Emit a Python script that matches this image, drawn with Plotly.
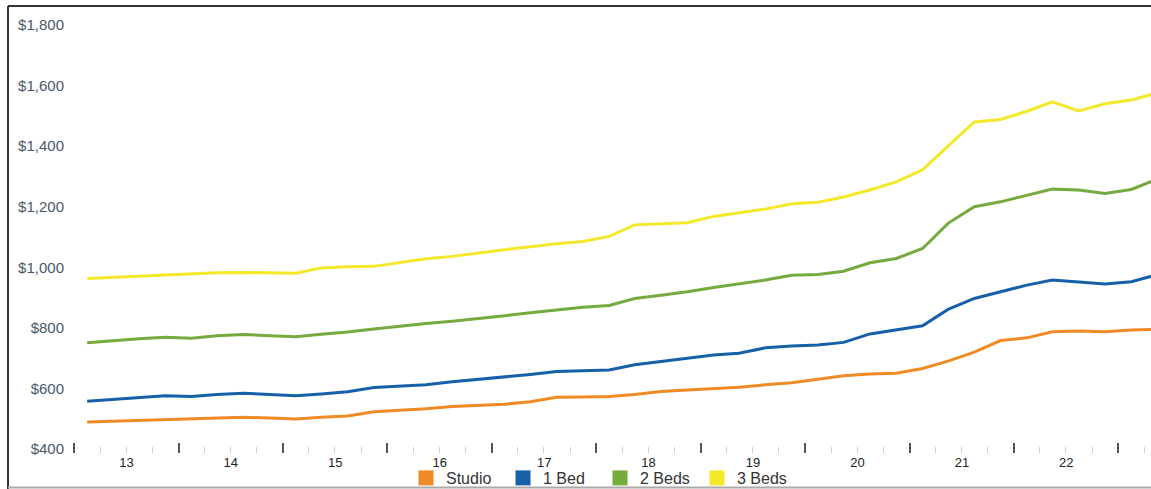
import plotly.graph_objects as go

# Quarterly observations (mid-quarter), 2013 Q1 .. 2023 Q2
quarters = [f"{2013 + k // 4}-{2 + 3 * (k % 4):02d}-15" for k in range(42)]

studio = [489, 492, 495, 498, 500, 502, 505, 502, 499, 505,
          509, 523, 527, 533, 540, 545, 548, 556, 571, 572,
          573, 580, 590, 595, 600, 604, 612, 619, 630, 642,
          648, 650, 666, 690, 720, 758, 767, 787, 790, 787,
          793, 795]

bed1 = [558, 564, 570, 576, 573, 580, 584, 580, 576, 582,
        589, 603, 607, 612, 622, 630, 637, 646, 656, 659,
        661, 678, 690, 700, 710, 716, 734, 740, 743, 752,
        780, 793, 807, 861, 897, 919, 941, 958, 952, 945,
        952, 975]

beds2 = [751, 758, 764, 769, 766, 774, 778, 774, 771, 779,
         786, 796, 806, 814, 822, 830, 840, 850, 860, 868,
         874, 897, 908, 919, 933, 945, 958, 974, 976, 987,
         1015, 1029, 1062, 1145, 1200, 1216, 1238, 1258, 1255, 1244,
         1257, 1290]

beds3 = [963, 967, 971, 974, 977, 982, 983, 982, 980, 998,
         1002, 1003, 1015, 1028, 1036, 1048, 1058, 1068, 1078, 1085,
         1102, 1140, 1143, 1147, 1168, 1180, 1192, 1210, 1215, 1232,
         1255, 1282, 1322, 1400, 1480, 1488, 1515, 1546, 1516, 1540,
         1552, 1575]

series_names = ["Studio", "1 Bed", "2 Beds", "3 Beds"]
series_values = [studio, bed1, beds2, beds3]
series_colors = ["#F08A24", "#1560A8", "#75AA3E", "#F5E82A"]

y_ticks = [400, 600, 800, 1000, 1200, 1400, 1600, 1800]
y_tick_labels = [f"${v:,}" for v in y_ticks]

fig = go.Figure()
for name, vals, col in zip(series_names, series_values, series_colors):
    fig.add_trace(go.Scatter(x=quarters, y=vals, mode="lines", name=name,
                             line=dict(color=col, width=3),
                             showlegend=False))
# legend entries with square swatches
for name, col in zip(series_names, series_colors):
    fig.add_trace(go.Scatter(x=[None], y=[None], mode="markers", name=name,
                             marker=dict(symbol="square", size=15, color=col),
                             showlegend=True))

W, H = 1151, 489
ml, mt, mb = 68, 8, 36
pw = W - ml
ph = H - mt - mb

def px_x(px):
    return (px - ml) / pw

def px_y(py):
    return 1 - (py - mt) / ph

fig.update_layout(
    width=W, height=H,
    margin=dict(l=ml, r=0, t=mt, b=mb, pad=0, autoexpand=False),
    paper_bgcolor="white", plot_bgcolor="white",
    font=dict(family="Liberation Sans, Arial, sans-serif", size=13, color="#333"),
    xaxis=dict(
        type="date",
        range=["2012-12-10", "2023-04-25"],
        tick0="2013-01-01", dtick="M12",
        tickformat="%y", ticklabelmode="period",
        ticks="inside", ticklen=10, tickwidth=2, tickcolor="#555",
        minor=dict(dtick="M3", ticks="inside", ticklen=6, tickwidth=1,
                   tickcolor="#cfcfcf", showgrid=False),
        showgrid=False, zeroline=False, showline=False,
        tickfont=dict(size=13, color="#222"),
        ticklabelstandoff=0,
    ),
    yaxis=dict(
        range=[386.8, 1856],
        tickmode="array", tickvals=y_ticks, ticktext=y_tick_labels,
        showgrid=False, zeroline=False, showline=False,
        tickfont=dict(size=15, color="#4a5968"),
        ticks="", ticklabelstandoff=3,
    ),
    legend=dict(orientation="h", xref="container", yref="container",
                x=600 / W, xanchor="center",
                y=1 - 478 / H, yanchor="middle",
                font=dict(size=16, color="#333"),
                itemwidth=30, entrywidth=52, entrywidthmode="pixels",
                bgcolor="rgba(0,0,0,0)"),
    showlegend=True,
    shapes=[
        dict(type="line", xref="paper", yref="paper",
             x0=px_x(8), x1=px_x(1151), y0=px_y(6), y1=px_y(6),
             line=dict(color="#333", width=2)),
        dict(type="line", xref="paper", yref="paper",
             x0=px_x(8), x1=px_x(8), y0=px_y(6), y1=px_y(489),
             line=dict(color="#333", width=2)),
        dict(type="line", xref="paper", yref="paper",
             x0=px_x(8), x1=px_x(1151), y0=px_y(487.5), y1=px_y(487.5),
             line=dict(color="#aaa", width=2)),
    ],
)

fig.write_html("out.html")
